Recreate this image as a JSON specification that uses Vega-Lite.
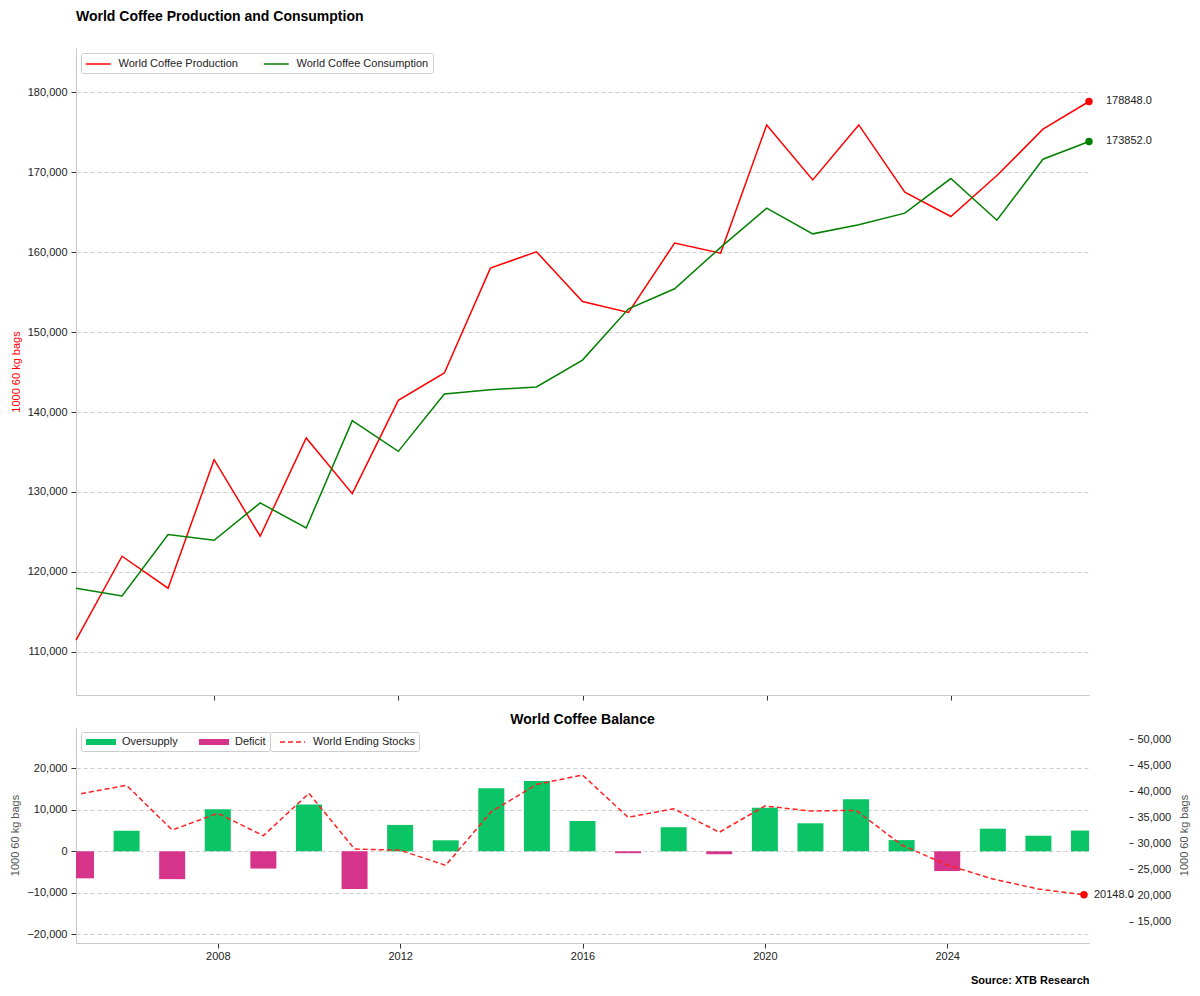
{
  "$schema": "https://vega.github.io/schema/vega-lite/v6.json",
  "background": "white",
  "padding": {"left": 9, "top": 10, "right": 10, "bottom": 6},
  "config": {
    "font": "Liberation Sans",
    "view": {"stroke": null},
    "axis": {
      "labelFont": "Liberation Sans", "labelFontSize": 11, "labelColor": "#222222",
      "titleFont": "Liberation Sans", "titleFontSize": 11, "titleFontWeight": "normal",
      "domainColor": "#c8c8c8", "tickColor": "#333333", "tickSize": 5, "labelPadding": 4,
      "gridColor": "#cccccc", "gridDash": [4, 3], "gridWidth": 1
    },
    "legend": {"labelFont": "Liberation Sans", "labelFontSize": 11, "labelColor": "#222222"},
    "title": {"font": "Liberation Sans", "fontSize": 14, "fontWeight": "bold", "color": "#000000", "frame": "group"}
  },
  "datasets": {
    "top": [
      {"year": 2005, "series": "World Coffee Production", "value": 111460},
      {"year": 2006, "series": "World Coffee Production", "value": 121960},
      {"year": 2007, "series": "World Coffee Production", "value": 117960},
      {"year": 2008, "series": "World Coffee Production", "value": 134040},
      {"year": 2009, "series": "World Coffee Production", "value": 124460},
      {"year": 2010, "series": "World Coffee Production", "value": 136750},
      {"year": 2011, "series": "World Coffee Production", "value": 129790},
      {"year": 2012, "series": "World Coffee Production", "value": 141460},
      {"year": 2013, "series": "World Coffee Production", "value": 144880},
      {"year": 2014, "series": "World Coffee Production", "value": 158000},
      {"year": 2015, "series": "World Coffee Production", "value": 160050},
      {"year": 2016, "series": "World Coffee Production", "value": 153830},
      {"year": 2017, "series": "World Coffee Production", "value": 152460},
      {"year": 2018, "series": "World Coffee Production", "value": 161130},
      {"year": 2019, "series": "World Coffee Production", "value": 159880},
      {"year": 2020, "series": "World Coffee Production", "value": 175920},
      {"year": 2021, "series": "World Coffee Production", "value": 169040},
      {"year": 2022, "series": "World Coffee Production", "value": 175920},
      {"year": 2023, "series": "World Coffee Production", "value": 167500},
      {"year": 2024, "series": "World Coffee Production", "value": 164460},
      {"year": 2025, "series": "World Coffee Production", "value": 169580},
      {"year": 2026, "series": "World Coffee Production", "value": 175380},
      {"year": 2027, "series": "World Coffee Production", "value": 178848},
      {"year": 2005, "series": "World Coffee Consumption", "value": 117960},
      {"year": 2006, "series": "World Coffee Consumption", "value": 117000},
      {"year": 2007, "series": "World Coffee Consumption", "value": 124670},
      {"year": 2008, "series": "World Coffee Consumption", "value": 123960},
      {"year": 2009, "series": "World Coffee Consumption", "value": 128630},
      {"year": 2010, "series": "World Coffee Consumption", "value": 125500},
      {"year": 2011, "series": "World Coffee Consumption", "value": 138920},
      {"year": 2012, "series": "World Coffee Consumption", "value": 135080},
      {"year": 2013, "series": "World Coffee Consumption", "value": 142250},
      {"year": 2014, "series": "World Coffee Consumption", "value": 142790},
      {"year": 2015, "series": "World Coffee Consumption", "value": 143130},
      {"year": 2016, "series": "World Coffee Consumption", "value": 146500},
      {"year": 2017, "series": "World Coffee Consumption", "value": 152920},
      {"year": 2018, "series": "World Coffee Consumption", "value": 155420},
      {"year": 2019, "series": "World Coffee Consumption", "value": 160600},
      {"year": 2020, "series": "World Coffee Consumption", "value": 165500},
      {"year": 2021, "series": "World Coffee Consumption", "value": 162290},
      {"year": 2022, "series": "World Coffee Consumption", "value": 163420},
      {"year": 2023, "series": "World Coffee Consumption", "value": 164880},
      {"year": 2024, "series": "World Coffee Consumption", "value": 169210},
      {"year": 2025, "series": "World Coffee Consumption", "value": 164000},
      {"year": 2026, "series": "World Coffee Consumption", "value": 171630},
      {"year": 2027, "series": "World Coffee Consumption", "value": 173852}
    ],
    "bal": [
      {"year": 2005, "balance": -6500, "type": "Deficit", "stocks": 39520},
      {"year": 2006, "balance": 4950, "type": "Oversupply", "stocks": 41130},
      {"year": 2007, "balance": -6700, "type": "Deficit", "stocks": 32560},
      {"year": 2008, "balance": 10100, "type": "Oversupply", "stocks": 35760},
      {"year": 2009, "balance": -4150, "type": "Deficit", "stocks": 31470},
      {"year": 2010, "balance": 11250, "type": "Oversupply", "stocks": 39590},
      {"year": 2011, "balance": -9100, "type": "Deficit", "stocks": 28920},
      {"year": 2012, "balance": 6350, "type": "Oversupply", "stocks": 28680},
      {"year": 2013, "balance": 2650, "type": "Oversupply", "stocks": 25800},
      {"year": 2014, "balance": 15200, "type": "Oversupply", "stocks": 36070},
      {"year": 2015, "balance": 16950, "type": "Oversupply", "stocks": 41320},
      {"year": 2016, "balance": 7300, "type": "Oversupply", "stocks": 43100},
      {"year": 2017, "balance": -450, "type": "Deficit", "stocks": 35000},
      {"year": 2018, "balance": 5800, "type": "Oversupply", "stocks": 36650},
      {"year": 2019, "balance": -700, "type": "Deficit", "stocks": 32120},
      {"year": 2020, "balance": 10500, "type": "Oversupply", "stocks": 37160},
      {"year": 2021, "balance": 6750, "type": "Oversupply", "stocks": 36200},
      {"year": 2022, "balance": 12550, "type": "Oversupply", "stocks": 36330},
      {"year": 2023, "balance": 2700, "type": "Oversupply", "stocks": 29690},
      {"year": 2024, "balance": -4750, "type": "Deficit", "stocks": 25860},
      {"year": 2025, "balance": 5450, "type": "Oversupply", "stocks": 23180},
      {"year": 2026, "balance": 3750, "type": "Oversupply", "stocks": 21260},
      {"year": 2027, "balance": 5000, "type": "Oversupply", "stocks": 20148}
    ]
  },
  "spacing": 12,
  "resolve": {
    "scale": {"color": "independent", "x": "independent", "strokeDash": "independent"},
    "legend": {"color": "independent", "strokeDash": "independent"}
  },
  "vconcat": [
    {
      "width": 1013,
      "height": 647,
      "title": {"text": "World Coffee Production and Consumption", "anchor": "start", "offset": 24},
      "data": {"name": "top"},
      "encoding": {
        "x": {
          "field": "year", "type": "quantitative",
          "scale": {"domain": [2005, 2027], "nice": false, "zero": false},
          "axis": {"values": [2008, 2012, 2016, 2020, 2024], "labels": false, "title": null, "grid": false}
        }
      },
      "layer": [
        {
          "mark": {"type": "line", "strokeWidth": 1.5},
          "encoding": {
            "y": {
              "field": "value", "type": "quantitative",
              "scale": {"domain": [104600, 185540], "nice": false, "zero": false},
              "axis": {"values": [110000, 120000, 130000, 140000, 150000, 160000, 170000, 180000], "format": ",.0f", "title": "1000 60 kg bags", "titleColor": "#ff0000", "grid": true, "titlePadding": 6}
            },
            "color": {
              "field": "series", "type": "nominal",
              "scale": {"domain": ["World Coffee Production", "World Coffee Consumption"], "range": ["#ff0000", "#008000"]},
              "legend": {"title": null, "orient": "top-left", "direction": "horizontal", "offset": 5, "padding": 4, "strokeColor": "#cccccc", "fillColor": "white", "cornerRadius": 2, "symbolType": "M-1,0H3", "symbolSize": 156.25, "symbolStrokeWidth": 1.5, "columnPadding": 22, "labelOffset": 19.5}
            }
          }
        },
        {
          "transform": [{"filter": "datum.year == 2027"}],
          "mark": {"type": "point", "filled": true, "size": 55, "opacity": 1},
          "encoding": {
            "y": {"field": "value", "type": "quantitative"},
            "color": {"field": "series", "type": "nominal", "legend": null}
          }
        },
        {
          "transform": [{"filter": "datum.year == 2027"}],
          "mark": {"type": "text", "align": "left", "baseline": "middle", "dx": 17, "fontSize": 11, "color": "#222222"},
          "encoding": {
            "y": {"field": "value", "type": "quantitative"},
            "text": {"field": "value", "type": "quantitative", "format": ".1f"}
          }
        }
      ]
    },
    {
      "width": 1013,
      "height": 216,
      "title": {"text": "World Coffee Balance", "anchor": "middle", "offset": 0},
      "data": {"name": "bal"},
      "encoding": {
        "x": {
          "field": "year", "type": "quantitative",
          "scale": {"domain": [2005, 2027], "nice": false, "zero": false},
          "axis": {"values": [2008, 2012, 2016, 2020, 2024], "format": "d", "labelPadding": 2, "title": "Source: XTB Research", "titleAnchor": "end", "titleFontWeight": "bold", "titleColor": "#000000", "titlePadding": 13, "grid": false}
        }
      },
      "layer": [
        {
          "mark": {"type": "bar", "width": 26, "clip": true, "orient": "vertical"},
          "encoding": {
            "y": {
              "field": "balance", "type": "quantitative",
              "scale": {"domain": [-22070, 29920], "nice": false},
              "axis": {"values": [-20000, -10000, 0, 10000, 20000], "format": ",.0f", "title": "1000 60 kg bags", "titleColor": "#555555", "grid": true, "titlePadding": 6}
            },
            "color": {
              "field": "type", "type": "nominal",
              "scale": {"domain": ["Oversupply", "Deficit"], "range": ["#0bc466", "#d6338a"]},
              "legend": {
                "title": null, "orient": "top-left", "direction": "horizontal", "offset": 5, "padding": 4,
                "strokeColor": "#cccccc", "fillColor": "white", "cornerRadius": 2,
                "symbolType": "M-1,-0.6H5V0.6H-1Z", "symbolSize": 100,
                "columnPadding": 20, "labelOffset": 25
              }
            }
          }
        },
        {
          "encoding": {
            "y": {
              "field": "stocks", "type": "quantitative",
              "scale": {"domain": [10910, 52300], "nice": false, "zero": false},
              "axis": {"orient": "right", "values": [15000, 20000, 25000, 30000, 35000, 40000, 45000, 50000], "format": ",.0f", "title": "1000 60 kg bags", "titleColor": "#555555", "titleAngle": 270, "titleBaseline": "top", "grid": false, "domain": false, "offset": 40, "tickSize": 4, "titlePadding": 8}
            }
          },
          "layer": [
            {
              "mark": {"type": "line", "strokeWidth": 1.5, "color": "#ff2020"},
              "encoding": {
                "strokeDash": {
                  "datum": "World Ending Stocks", "type": "nominal",
                  "scale": {"domain": ["World Ending Stocks"], "range": [[5, 3]]},
                  "legend": {
                    "title": null, "orient": "none", "legendX": 194, "legendY": 5, "padding": 4,
                    "strokeColor": "#cccccc", "fillColor": "white", "cornerRadius": 2,
                    "symbolType": "M-1,0H4", "symbolSize": 100, "symbolStrokeWidth": 1.5, "symbolStrokeColor": "#ff2020",
                    "symbolOffset": 5, "labelOffset": 22
                  }
                }
              }
            },
            {
              "transform": [{"filter": "datum.year == 2027"}],
              "mark": {"type": "point", "filled": true, "size": 55, "color": "#ff0000", "opacity": 1},
              "encoding": {}
            },
            {
              "transform": [{"filter": "datum.year == 2027"}],
              "mark": {"type": "text", "align": "left", "baseline": "middle", "dx": 10, "fontSize": 11, "color": "#222222"},
              "encoding": {"text": {"field": "stocks", "type": "quantitative", "format": ".1f"}}
            }
          ]
        }
      ],
      "resolve": {"scale": {"y": "independent"}}
    }
  ]
}
